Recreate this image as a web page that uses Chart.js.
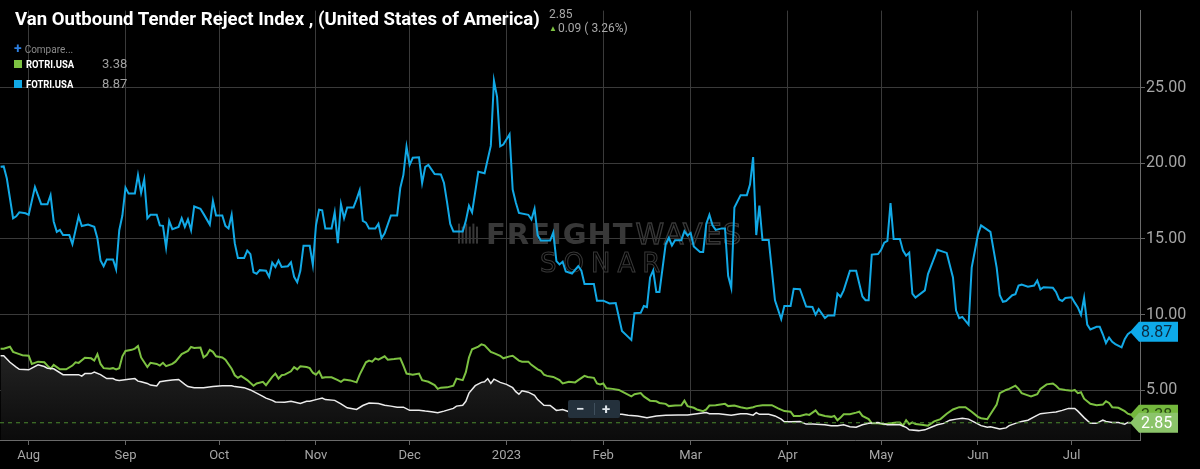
<!DOCTYPE html>
<html>
<head>
<meta charset="utf-8">
<script src="https://cdn.jsdelivr.net/npm/chart.js@4.4.0/dist/chart.umd.min.js"></script>
<style>
html,body{margin:0;padding:0;background:#000;}
#wrap{position:relative;width:1200px;height:469px;overflow:hidden;background:#000;font-family:Roboto,"Noto Sans",sans-serif;}
#wrap canvas{position:absolute;left:0;top:0;}
.ov{position:absolute;white-space:nowrap;}
#title{left:15px;top:9px;color:#fff;font-weight:bold;font-size:19px;line-height:19px;transform-origin:0 0;}
#last{left:549px;top:7px;color:#a8a8a8;font-size:12px;line-height:14px;}
#chg{left:549px;top:21px;color:#a8a8a8;font-size:12px;line-height:14px;}
#chg b{color:#7dc242;font-size:8px;vertical-align:1px;margin-right:1px;}
#cmp{left:14px;top:41px;font-size:10px;line-height:14px;color:#8a8a8a;}
#cmp span{color:#2d7fe0;font-size:14px;font-weight:bold;margin-right:3px;}
.lg{left:14px;font-size:11px;line-height:14px;color:#fff;}
.lg i{display:inline-block;width:8px;height:8px;margin-right:4px;vertical-align:0px;}
.lg b{display:inline-block;transform:scaleX(0.86);transform-origin:0 0;width:60px;}
.lg span{color:#a0a0a0;font-size:13px;margin-left:16px;}
#zc{left:568px;top:400px;width:52px;height:18px;background:#24313c;border-radius:2px;color:#dfe5ea;font-size:15px;line-height:18px;font-weight:bold;}
#zc span{position:absolute;top:0;}
#zc em{position:absolute;left:26px;top:3px;width:1px;height:12px;background:#3f4f5c;}
</style>
</head>
<body>
<div id="wrap">
<canvas id="c" width="1200" height="469"></canvas>
<div class="ov" id="title">Van Outbound Tender Reject Index , (United States of America)</div>
<div class="ov" id="last">2.85</div>
<div class="ov" id="chg"><b>&#9650;</b>0.09 ( 3.26%)</div>
<div class="ov" id="cmp"><span>+</span>Compare...</div>
<div class="ov lg" style="top:57px"><i style="background:#7dc242"></i><b>ROTRI.USA</b><span>3.38</span></div>
<div class="ov lg" style="top:77px"><i style="background:#12a9e6"></i><b>FOTRI.USA</b><span>8.87</span></div>
<div class="ov" id="zc"><span style="left:8px">&minus;</span><em></em><span style="left:34px">+</span></div>
</div>
<script>
// days counted from 1 Aug 2022
const monthDays = [0,31,61,92,122,153,184,212,243,273,304,334];
const monthLabels = ['Aug','Sep','Oct','Nov','Dec','2023','Feb','Mar','Apr','May','Jun','Jul'];
const yTicks = [5,10,15,20,25];

// FOTRI.USA (blue)
const fotriDays = [-9,-8,-7,-5,-4,-3,-1,0,2,4,6,7,8,9,10,11,13,14,16,17,19,21,22,23,24,25,27,28,29,30,31,32,34,35,36,37,38,39,41,42,43,44,45,46,48,49,50,51,52,53,55,56,58,59,60,62,63,64,65,66,67,69,70,71,72,73,74,76,77,78,79,80,81,83,84,85,86,87,88,90,91,92,93,94,95,97,98,99,100,101,102,104,105,106,107,108,109,111,112,113,114,116,118,119,120,121,122,123,125,126,127,128,130,132,133,134,135,136,139,140,141,142,144,146,148,149,150,151,152,154,155,156,157,160,161,162,163,164,167,168,169,170,171,172,174,176,177,178,181,182,184,186,188,190,193,194,196,197,198,199,200,201,202,204,205,206,207,209,210,211,212,213,215,216,217,218,219,220,222,223,224,225,226,228,230,231,232,233,234,235,237,239,241,242,244,245,247,249,251,252,253,255,256,258,259,260,261,263,265,267,268,269,270,272,273,274,275,276,277,279,280,281,282,283,284,287,288,291,294,296,297,298,299,301,302,304,305,308,310,311,312,313,315,316,317,318,320,322,323,324,325,328,329,330,331,332,334,335,336,337,338,339,340,342,343,344,345,346,347,348,350,351,352,353];
const fotriVals = [19.77,19.8,19.0,16.37,16.5,16.76,16.7,16.6,18.44,17.3,17.3,17.9,16.16,15.47,15.6,15.26,15.26,14.66,16.5,15.86,15.95,15.8,15.05,13.58,13.2,13.65,13.65,13.0,15.58,16.55,18.4,18.0,18.0,19.24,18.05,18.95,16.37,16.6,16.6,15.9,15.87,14.44,16.2,15.65,15.8,16.37,15.8,16.3,15.58,17.15,17.0,16.66,15.95,17.52,16.55,16.55,15.87,15.7,16.6,14.72,13.75,13.75,14.23,14.0,12.79,12.7,12.94,12.9,12.5,13.43,13.15,13.58,13.15,13.2,13.46,12.5,12.14,12.9,14.55,14.55,13.28,15.9,16.94,16.9,15.69,15.69,16.76,14.72,17.3,16.37,17.08,17.08,17.62,18.23,16.2,16.08,15.69,15.69,16.0,15.05,15.37,16.55,16.55,18.37,19.24,21.11,19.9,20.37,20.4,18.7,19.77,19.9,19.3,19.27,18.7,17.4,16.0,15.5,15.5,16.2,17.2,16.76,19.45,19.35,21.17,25.47,24.4,21.13,21.24,21.92,18.27,17.41,16.72,16.6,16.29,17.0,15.26,14.9,14.9,15.43,13.54,13.32,13.5,12.85,12.72,13.21,12.9,12.03,12.03,10.92,10.92,10.74,10.77,8.92,8.33,10.1,10.12,10.57,10.5,12.46,12.93,11.5,11.5,14.66,15.08,14.57,14.92,14.92,15.52,15.23,15.4,14.5,14.14,14.14,16.0,16.6,15.9,15.6,15.7,15.7,12.57,11.77,17.08,17.9,17.9,18.6,20.42,15.26,17.2,14.94,14.94,10.95,9.71,10.57,10.57,11.71,11.68,10.53,10.5,9.99,10.36,9.77,9.94,9.94,11.39,11.18,11.6,12.9,12.9,11.2,10.95,10.95,13.97,14.0,14.29,14.76,14.87,17.37,15.0,15.0,14.23,13.9,14.1,11.39,11.13,11.6,12.68,14.29,14.08,12.46,10.27,9.77,9.85,9.34,13.11,15.3,15.9,15.47,13.11,11.28,10.85,10.9,11.28,11.35,11.92,11.98,11.85,11.92,12.25,11.67,11.81,11.77,11.5,11.0,10.9,11.1,11.15,10.79,10.48,9.99,11.11,9.34,9.02,9.19,9.19,8.7,8.12,8.48,8.2,8.05,7.84,8.37,8.7,8.87];

// ROTRI.USA (green)
const rotriDays = [-9,-8,-6,-5,-3,-2,0,1,3,5,6,7,8,10,12,14,15,16,18,20,21,22,23,24,26,27,28,29,30,31,33,34,35,36,38,39,41,42,43,44,46,47,49,51,52,53,55,56,57,58,59,60,62,63,65,66,67,68,70,72,73,75,76,78,79,80,81,82,84,85,86,87,89,90,91,92,93,94,95,97,99,100,101,103,105,106,108,109,110,111,112,114,115,117,119,120,121,123,125,126,128,130,131,132,134,136,137,139,140,141,142,144,145,146,148,149,151,152,154,155,157,158,160,161,163,164,165,166,168,170,171,173,175,176,178,179,181,182,183,184,185,187,189,191,193,194,196,197,199,201,202,204,205,207,209,210,211,213,214,216,217,218,220,223,224,226,228,230,232,233,235,238,240,242,244,245,247,249,250,252,253,255,257,258,259,260,261,263,265,266,267,269,270,272,274,276,278,279,280,281,282,283,284,286,288,290,292,294,296,298,300,302,304,305,307,308,310,311,313,314,316,317,318,320,321,323,324,326,328,329,330,332,334,335,336,337,338,340,342,344,345,346,347,349,351,352,353];
const rotriVals = [7.75,7.75,7.88,7.54,7.39,7.32,7.28,6.74,6.89,6.85,6.63,6.42,6.68,6.38,6.38,6.63,6.85,6.81,7.15,7.11,6.96,7.39,6.74,6.46,6.42,6.46,6.38,6.46,7.24,7.6,7.67,7.75,7.92,7.17,6.53,6.81,6.74,6.63,6.81,6.59,6.74,6.89,7.39,7.6,7.86,7.8,7.82,7.17,7.32,7.67,7.54,7.24,7.17,7.02,6.42,5.99,5.82,5.95,5.67,5.3,5.45,5.56,5.34,5.88,6.1,5.77,5.99,6.03,6.25,6.53,6.38,6.59,6.53,6.46,6.16,6.03,6.25,5.82,5.86,5.86,5.67,5.56,5.71,5.65,5.52,6.03,6.85,6.96,6.89,7.11,7.02,7.24,7.02,7.06,7.11,6.63,6.1,6.03,6.1,5.67,5.56,5.34,5.09,5.17,5.19,5.3,5.77,5.67,6.2,7.17,7.71,7.88,8.03,7.97,7.54,7.45,7.28,7.11,7.24,7.28,6.96,6.89,6.89,6.68,6.38,6.29,6.03,5.95,5.88,5.67,5.45,5.56,5.52,5.67,5.95,5.88,5.82,5.45,5.39,5.45,5.13,5.09,5.02,4.81,4.59,4.74,4.81,4.59,4.31,4.27,4.16,4.1,3.95,3.99,4.01,4.31,3.95,3.84,3.73,3.62,3.73,3.99,4.01,4.1,3.95,3.99,3.88,3.8,3.88,3.95,4.01,4.01,3.8,3.62,3.58,3.3,3.3,3.41,3.37,3.67,3.41,3.3,3.24,3.3,3.02,3.19,3.41,3.41,3.52,3.58,3.3,3.09,2.81,2.81,2.76,2.81,2.87,2.87,2.66,3.02,2.76,2.87,2.76,2.72,2.66,2.94,3.09,3.45,3.73,3.88,3.88,3.58,3.24,3.15,3.09,3.41,4.05,4.81,5.02,5.09,5.3,5.09,4.81,4.66,4.59,4.74,5.09,5.39,5.45,5.3,5.09,5.02,4.96,5.02,4.81,4.87,4.44,4.1,4.01,4.05,4.27,4.16,3.88,3.84,3.62,3.45,3.38];

// Van Outbound Tender Reject Index (white)
const vanDays = [-9,-8,-6,-4,-3,0,1,3,5,6,8,11,13,16,17,18,20,21,23,25,27,28,29,32,34,35,36,38,39,41,42,44,46,48,50,51,53,56,59,62,65,66,69,71,73,75,76,78,79,82,84,87,89,90,92,94,95,98,100,102,105,107,109,112,114,116,118,120,122,125,127,129,131,133,136,137,139,140,141,143,145,146,147,148,149,151,153,155,156,157,158,160,162,163,165,167,169,170,171,173,177,183,187,190,192,195,198,201,204,208,211,214,217,218,221,225,228,230,232,233,234,237,239,241,242,244,247,249,251,255,257,259,261,263,265,267,269,272,273,275,279,281,282,285,287,289,291,293,295,297,299,301,303,305,307,308,311,313,314,316,318,320,322,324,327,329,331,333,335,336,338,340,342,344,345,347,349,351,352,353];
const vanVals = [7.28,7.28,6.85,6.53,6.38,6.35,6.46,6.68,6.57,6.46,6.42,6.03,6.03,6.03,5.93,6.1,6.1,6.2,6.03,5.77,5.77,5.67,5.65,5.73,5.77,5.6,5.56,5.45,5.34,5.28,5.56,5.62,5.67,5.71,5.39,5.24,5.17,5.17,5.24,5.3,5.3,5.24,5.17,5.02,4.81,4.59,4.48,4.33,4.23,4.2,4.27,4.12,4.27,4.27,4.38,4.48,4.38,4.33,4.1,3.84,3.73,3.99,4.16,4.12,4.01,3.95,3.88,3.88,3.67,3.67,3.62,3.58,3.52,3.62,3.8,3.95,4.01,4.27,4.81,5.3,5.52,5.56,5.77,5.45,5.73,5.52,5.39,5.17,4.91,4.74,4.96,4.87,4.66,4.38,4.01,3.99,3.67,3.69,3.73,3.58,3.55,3.48,3.42,3.41,3.35,3.3,3.19,3.3,3.35,3.37,3.37,3.45,3.52,3.45,3.45,3.35,3.45,3.45,3.35,3.52,3.41,3.41,3.3,3.09,2.91,2.91,2.93,2.76,2.76,2.72,2.66,2.66,2.72,2.59,2.55,2.72,2.81,2.87,2.81,2.72,2.72,2.55,2.38,2.33,2.38,2.55,2.72,2.81,3.02,3.09,3.15,3.09,2.87,2.66,2.55,2.59,2.44,2.51,2.66,2.81,2.94,3.02,3.24,3.45,3.52,3.56,3.67,3.8,3.8,3.62,3.19,2.81,2.81,3.02,2.94,2.87,2.87,2.76,2.87,2.85];

const pts = (d, v) => d.map((x, i) => ({x: x, y: v[i]}));
const last = a => a[a.length - 1];

// fit the condensed title to its width in the reference
const t = document.getElementById('title');
t.style.transform = 'scaleX(' + (525 / t.scrollWidth).toFixed(3) + ')';

const watermark = {
    id: 'watermark',
    beforeDatasetsDraw(chart) {
        const ctx = chart.ctx, a = chart.chartArea;
        const x = a.left + 458, y = a.top + 233;
        ctx.save();
        ctx.fillStyle = '#383838';
        ctx.strokeStyle = '#383838';
        for (let i = 0; i < 6; i++) ctx.fillRect(x + i * 3.6, y - 20 + (i % 2) * 3, 2, 20 - (i % 2) * 3);
        ctx.font = 'bold 29px "DejaVu Sans"';
        ctx.letterSpacing = '1px';
        ctx.fillText('FREIGHT', x + 28, y);
        const w = ctx.measureText('FREIGHT').width;
        ctx.lineWidth = 1.3;
        ctx.font = '29px "DejaVu Sans"';
        ctx.strokeText('WAVES', x + 30 + w, y);
        ctx.font = '26px "DejaVu Sans"';
        ctx.letterSpacing = '7px';
        ctx.lineWidth = 1;
        ctx.strokeText('SONAR', x + 82, y + 28);
        ctx.restore();
    }
};

function tag(ctx, x, y, bg, fg, txt) {
    ctx.beginPath();
    ctx.moveTo(x, y);
    ctx.lineTo(x + 9, y - 10);
    ctx.lineTo(x + 48, y - 10);
    ctx.lineTo(x + 48, y + 10);
    ctx.lineTo(x + 9, y + 10);
    ctx.closePath();
    ctx.fillStyle = bg;
    ctx.fill();
    ctx.fillStyle = fg;
    ctx.font = '16px Roboto';
    ctx.textBaseline = 'middle';
    ctx.textAlign = 'left';
    ctx.fillText(txt, x + 11, y + 1);
}

const markers = {
    id: 'markers',
    afterDatasetsDraw(chart) {
        const ctx = chart.ctx, xs = chart.scales.x, ys = chart.scales.y;
        const yv = ys.getPixelForValue(last(vanVals));
        ctx.save();
        ctx.strokeStyle = '#4c8a2e';
        ctx.lineWidth = 1;
        ctx.setLineDash([4, 4]);
        ctx.beginPath();
        ctx.moveTo(chart.chartArea.left, yv);
        ctx.lineTo(xs.getPixelForValue(last(vanDays)), yv);
        ctx.stroke();
        ctx.restore();
    },
    afterDraw(chart) {
        const ctx = chart.ctx, ys = chart.scales.y;
        const x = chart.chartArea.right - 10;
        ctx.save();
        tag(ctx, x, ys.getPixelForValue(last(fotriVals)), '#0eaaea', '#0b2a40', last(fotriVals).toFixed(2));
        tag(ctx, x, ys.getPixelForValue(last(rotriVals)), '#74b83d', '#23420f', last(rotriVals).toFixed(2));
        tag(ctx, x, ys.getPixelForValue(last(vanVals)), '#8bc46a', '#ffffff', last(vanVals).toFixed(2));
        ctx.restore();
    }
};

new Chart(document.getElementById('c'), {
    type: 'line',
    data: {
        datasets: [{
            label: 'Van Outbound Tender Reject Index',
            data: pts(vanDays, vanVals),
            borderColor: '#ececec',
            borderWidth: 1.5,
            fill: 'start',
            backgroundColor: (c) => {
                const a = c.chart.chartArea;
                if (!a) return 'rgba(30,30,30,0.9)';
                const g = c.chart.ctx.createLinearGradient(0, c.chart.scales.y.getPixelForValue(7.3), 0, a.bottom);
                g.addColorStop(0, 'rgba(34,34,34,1)');
                g.addColorStop(1, 'rgba(11,11,11,1)');
                return g;
            }
        }, {
            label: 'ROTRI.USA',
            data: pts(rotriDays, rotriVals),
            borderColor: '#7dc242',
            borderWidth: 2,
            fill: false
        }, {
            label: 'FOTRI.USA',
            data: pts(fotriDays, fotriVals),
            borderColor: '#12a9e6',
            borderWidth: 2,
            fill: false
        }]
    },
    options: {
        responsive: false,
        animation: false,
        events: [],
        layout: {padding: 0},
        elements: {point: {radius: 0}, line: {tension: 0}},
        plugins: {
            legend: {display: false},
            title: {display: false},
            tooltip: {enabled: false},
            filler: {drawTime: 'beforeDatasetsDraw'}
        },
        scales: {
            x: {
                type: 'linear',
                min: -9.19,
                max: 355.9,
                afterBuildTicks: s => { s.ticks = monthDays.map(v => ({value: v})); },
                afterFit: s => { s.height = 29; },
                grid: {color: '#3a3a3a', tickLength: 5, tickColor: '#666'},
                border: {color: '#6a6a6a'},
                ticks: {
                    color: '#a6a6a6',
                    font: {family: 'Roboto', size: 13},
                    padding: 3,
                    maxRotation: 0,
                    autoSkip: false,
                    callback: v => monthLabels[monthDays.indexOf(v)]
                }
            },
            y: {
                position: 'right',
                min: 1.71,
                max: 30.1,
                afterBuildTicks: s => { s.ticks = yTicks.map(v => ({value: v})); },
                afterFit: s => { s.width = 60; },
                grid: {color: '#3a3a3a', tickLength: 5, tickColor: '#666'},
                border: {color: '#6a6a6a'},
                ticks: {
                    color: '#a6a6a6',
                    font: {family: 'Roboto', size: 16},
                    padding: 1,
                    callback: v => v.toFixed(2)
                }
            }
        }
    },
    plugins: [watermark, markers]
});
</script>
</body>
</html>
